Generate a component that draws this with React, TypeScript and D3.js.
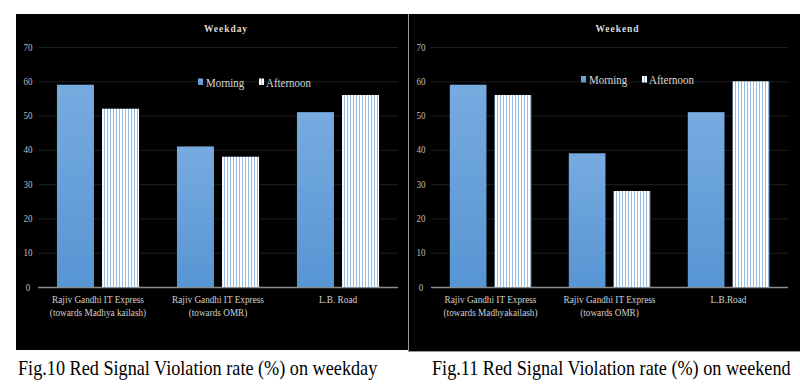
import React from 'react';
import * as d3 from 'd3';

const series = ['Morning', 'Afternoon'];
const yTicks = [0, 10, 20, 30, 40, 50, 60, 70];

const weekdayCategories = [
  ['Rajiv Gandhi IT Express', '(towards Madhya kailash)'],
  ['Rajiv Gandhi IT Express', '(towards OMR)'],
  ['L.B. Road'],
];
const weekdayMorning = [59, 41, 51];
const weekdayAfternoon = [52, 38, 56];

const weekendCategories = [
  ['Rajiv Gandhi IT Express', '(towards Madhyakailash)'],
  ['Rajiv Gandhi IT Express', '(towards OMR)'],
  ['L.B.Road'],
];
const weekendMorning = [59, 39, 51];
const weekendAfternoon = [56, 28, 60];

const serif = '"Liberation Serif", "Times New Roman", serif';

// text squeezed horizontally, like the scanned figure
function Squeezed({ x, y, sx, anchor, size, fill, weight, spacing, children }) {
  return (
    <text
      transform={'translate(' + x + ',' + y + ') scale(' + sx + ',1)'}
      textAnchor={anchor || 'start'}
      fontFamily={serif}
      fontSize={size}
      fontWeight={weight || 'normal'}
      letterSpacing={spacing || 0}
      fill={fill}
    >
      {children}
    </text>
  );
}

function Panel(props) {
  const { id, x, width, height, title, categories, morning, afternoon, plotLeft, plotRight, legendX, legendY, caption } = props;
  const yScale = d3.scaleLinear().domain([0, 70]).range([287, 47]);
  const names = categories.map((c) => c.join(' '));
  const x0 = d3.scaleBand().domain(names).range([plotLeft, plotRight]).padding(0);
  const x1 = d3
    .scaleBand()
    .domain(series)
    .range([0, x0.bandwidth()])
    .paddingInner(0.18)
    .paddingOuter(0.42);
  const values = [morning, afternoon];
  const fills = ['url(#grad-' + id + ')', 'url(#stripe-' + id + ')'];

  return (
    <g>
      <defs>
        <linearGradient id={'grad-' + id} x1="0" y1="0" x2="0" y2="1">
          <stop offset="0%" stopColor="#77abe0" />
          <stop offset="100%" stopColor="#5795d3" />
        </linearGradient>
        <pattern id={'stripe-' + id} width="3" height="4" patternUnits="userSpaceOnUse">
          <rect width="3" height="4" fill="#ffffff" />
          <rect width="1" height="4" fill="#94bde6" />
        </pattern>
      </defs>
      <rect x={x} y={14} width={width} height={height} fill="#000" />
      <Squeezed
        x={(plotLeft + plotRight) / 2 + 8}
        y={32}
        sx={0.95}
        anchor="middle"
        size={10}
        weight="bold"
        spacing={1}
        fill="#d9d9d9"
      >
        {title}
      </Squeezed>
      {yTicks.map((t) => (
        <g key={t}>
          <line
            x1={plotLeft}
            x2={plotRight}
            y1={yScale(t) + 0.5}
            y2={yScale(t) + 0.5}
            stroke={t === 0 ? '#8c8c8c' : '#1e1e1e'}
            strokeWidth={t === 0 ? 1.5 : 1}
          />
          <Squeezed x={plotLeft - 10} y={yScale(t) + 3.5} sx={0.9} anchor="middle" size={10} fill="#bfbfbf">
            {t}
          </Squeezed>
        </g>
      ))}
      {names.map((name, i) => (
        <g key={name + i} transform={'translate(' + x0(name) + ',0)'}>
          {series.map((s, j) => (
            <rect
              key={s}
              x={x1(s)}
              y={yScale(values[j][i])}
              width={x1.bandwidth()}
              height={yScale(0) - yScale(values[j][i])}
              fill={fills[j]}
            />
          ))}
          {categories[i].map((line, k) => (
            <Squeezed
              key={k}
              x={x0.bandwidth() / 2}
              y={303 + k * 12.5}
              sx={0.88}
              anchor="middle"
              size={10.5}
              fill="#d0d0d0"
            >
              {line}
            </Squeezed>
          ))}
        </g>
      ))}
      <g transform={'translate(' + legendX + ',' + legendY + ')'}>
        <rect x={0} y={-3.5} width={5} height={6.5} fill={fills[0]} />
        <Squeezed x={8} y={4.5} sx={0.84} size={13} fill="#d9d9d9">
          Morning
        </Squeezed>
        <rect x={61} y={-3.5} width={5} height={6.5} fill={fills[1]} />
        <Squeezed x={68} y={4.5} sx={0.84} size={13} fill="#d9d9d9">
          Afternoon
        </Squeezed>
      </g>
      <Squeezed x={caption.x} y={375} sx={0.91} size={20} fill="#000">
        {caption.text}
      </Squeezed>
    </g>
  );
}

export default function App() {
  return (
    <svg
      width={800}
      height={385}
      style={{ position: 'absolute', left: 0, top: 0, background: '#fff' }}
    >
      <Panel
        id="wd"
        x={16}
        width={392}
        height={336}
        title="Weekday"
        categories={weekdayCategories}
        morning={weekdayMorning}
        afternoon={weekdayAfternoon}
        plotLeft={38}
        plotRight={398}
        legendX={198}
        legendY={82}
        caption={{ x: 18, text: 'Fig.10 Red Signal Violation rate (%) on weekday' }}
      />
      <Panel
        id="we"
        x={408}
        width={392}
        height={338}
        title="Weekend"
        categories={weekendCategories}
        morning={weekendMorning}
        afternoon={weekendAfternoon}
        plotLeft={431}
        plotRight={788}
        legendX={581}
        legendY={79.5}
        caption={{ x: 432, text: 'Fig.11 Red Signal Violation rate (%) on weekend' }}
      />
      <line x1={408.5} x2={408.5} y1={14} y2={352} stroke="#9a9a9a" />
      <line x1={408} x2={800} y1={351.5} y2={351.5} stroke="#9a9a9a" />
    </svg>
  );
}
